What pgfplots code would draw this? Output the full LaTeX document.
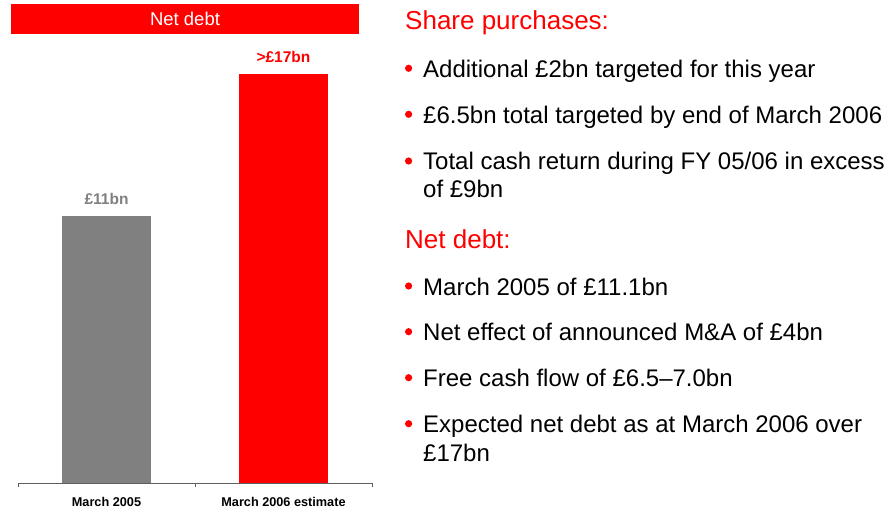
\documentclass[border=0pt]{standalone}
\usepackage{fontspec}
\setmainfont{Liberation Sans}
\usepackage{pgfplots}
\pgfplotsset{compat=1.18}
\definecolor{nred}{HTML}{FF0000}
\definecolor{ngray}{HTML}{808080}
\definecolor{axgray}{HTML}{606060}
\newcommand{\bul}[2]{%
  \fill[nred] (408.6,{-(#1-9)}) circle (3.6);
  \node[anchor=base west, inner sep=0pt, font=\fontsize{24}{28}\selectfont] at (423,-#1) {#2};}
\newcommand{\cont}[2]{%
  \node[anchor=base west, inner sep=0pt, font=\fontsize{24}{28}\selectfont] at (423,-#1) {#2};}
\begin{document}
\begin{tikzpicture}[x=1pt,y=1pt]
\useasboundingbox (0,0) rectangle (893,-510);
\fill[nred] (11,-4) rectangle (359,-34.5);
\node[white, inner sep=0pt, anchor=base, font=\fontsize{18.5}{20}\selectfont] at (185,-26) {Net debt};
\begin{axis}[
  at={(18pt,-483pt)}, anchor=south west,
  width=354pt, height=481pt, scale only axis,
  xmin=-0.5, xmax=1.5, ymin=0, ymax=20,
  axis x line*=bottom, axis y line=none,
  x axis line style={draw=axgray, line width=0.9pt},
  xtick={0,1}, xticklabels={March 2005, March 2006 estimate},
  major tick length=0pt,
  xticklabel style={font=\bfseries\fontsize{12.7}{14}\selectfont, anchor=base, inner sep=0pt, yshift=-23pt},
  extra x ticks={-0.5,0.5,1.5}, extra x tick labels={},
  extra x tick style={major tick length=4pt, tick align=outside, tick style={draw=axgray, line width=0.9pt}},
  ybar, bar width=89pt,
  every node near coord/.append style={font=\bfseries\fontsize{15.5}{17}\selectfont, inner sep=0pt, yshift=11pt},
  clip=false,
]
\addplot[fill=ngray, draw=none, bar shift=0pt, nodes near coords, point meta=explicit symbolic,
  every node near coord/.append style={text=ngray}] coordinates {(0,11.1) [£11bn]};
\addplot[fill=nred, draw=none, bar shift=0pt, nodes near coords, point meta=explicit symbolic,
  every node near coord/.append style={text=nred}] coordinates {(1,17) [>£17bn]};
\end{axis}
\node[anchor=base west, inner sep=0pt, text=nred, font=\fontsize{26}{30}\selectfont] at (405,-30) {Share purchases:};
\bul{77.3}{Additional £2bn targeted for this year}
\bul{123.3}{£6.5bn total targeted by end of March 2006}
\bul{170}{Total cash return during FY 05/06 in excess}
\cont{197.7}{of £9bn}
\node[anchor=base west, inner sep=0pt, text=nred, font=\fontsize{26}{30}\selectfont] at (405,-248.3) {Net debt:};
\bul{295}{March 2005 of £11.1bn}
\bul{340.7}{Net effect of announced M\&A of £4bn}
\bul{386.7}{Free cash flow of £6.5–7.0bn}
\bul{432.7}{Expected net debt as at March 2006 over}
\cont{461.7}{£17bn}
\end{tikzpicture}
\end{document}
